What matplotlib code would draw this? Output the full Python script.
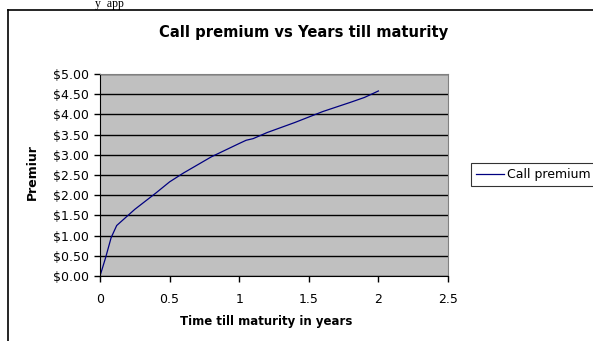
import matplotlib
matplotlib.use("Agg")
import matplotlib.pyplot as plt
from matplotlib.ticker import FuncFormatter, MultipleLocator
from matplotlib.lines import Line2D

years = [0, 0.04, 0.08, 0.12, 0.25, 0.4, 0.5, 0.6, 0.8, 1.0, 1.05, 1.1, 1.2, 1.4, 1.6, 1.8, 1.9, 2.0]
premium = [0, 0.45, 0.95, 1.25, 1.65, 2.05, 2.33, 2.55, 2.95, 3.28, 3.36, 3.40, 3.55, 3.80, 4.07, 4.30, 4.42, 4.58]
series_name = "Call premium"
title = "Call premium vs Years till maturity"
xlabel = "Time till maturity in years"
ylabel = "Premiur"

plt.rcParams['font.family'] = ['DejaVu Sans']

W, H = 593, 341
fig = plt.figure(figsize=(W / 100, H / 100), dpi=100)

def fx(px):
    return px / W

def fy(py):
    return 1 - py / H

# outer chart frame (left and top edges visible)
fig.add_artist(Line2D([fx(8), fx(8)], [fy(10), 0], color='black', lw=1.2))
fig.add_artist(Line2D([fx(8), 1], [fy(10), fy(10)], color='black', lw=1.2))

# fragment of document text above the chart
fig.text(fx(95), fy(7.5), "y  app", family='Liberation Serif', fontsize=8.5,
         ha='left', va='baseline')

L, R, T, B = 100, 448, 74, 276
ax = fig.add_axes([fx(L), fy(B), fx(R) - fx(L), fy(T) - fy(B)])
ax.set_facecolor('#C0C0C0')
ax.plot(years, premium, color='#000080', lw=0.9, label=series_name)
ax.set_xlim(0, 2.5)
ax.set_ylim(0, 5)
ax.xaxis.set_major_locator(MultipleLocator(0.5))
ax.yaxis.set_major_locator(MultipleLocator(0.5))
ax.xaxis.set_major_formatter(FuncFormatter(lambda v, p: f"{v:g}"))
ax.yaxis.set_major_formatter(FuncFormatter(lambda v, p: f"${v:.2f}"))
ax.grid(axis='y', color='black', lw=1.0)
ax.set_axisbelow(True)
for s in ['top', 'right']:
    ax.spines[s].set_color('#808080')
ax.spines['left'].set_color('black')
ax.spines['bottom'].set_color('black')
ax.tick_params(direction='out', length=4, width=1, labelsize=9)
ax.tick_params(axis='y', pad=4)
ax.tick_params(axis='x', pad=8)

fig.text(fx(304), fy(33), title, fontsize=10.6, fontweight='bold', ha='center', va='center')
fig.text(fx(266), fy(322), xlabel, fontsize=8.5, fontweight='bold', ha='center', va='center')
fig.text(fx(32), fy(172), ylabel, fontsize=9, fontweight='bold', ha='center', va='center', rotation=90)

leg = ax.legend(loc='center left', bbox_to_anchor=((471 - L) / (R - L), (B - 174.5) / (B - T)),
                frameon=True, fancybox=False, fontsize=9, handlelength=2.2,
                borderpad=0.4, handletextpad=0.3, borderaxespad=0)
leg.get_frame().set_edgecolor('black')
leg.get_frame().set_linewidth(0.8)

fig.savefig("out.png", dpi=100)
